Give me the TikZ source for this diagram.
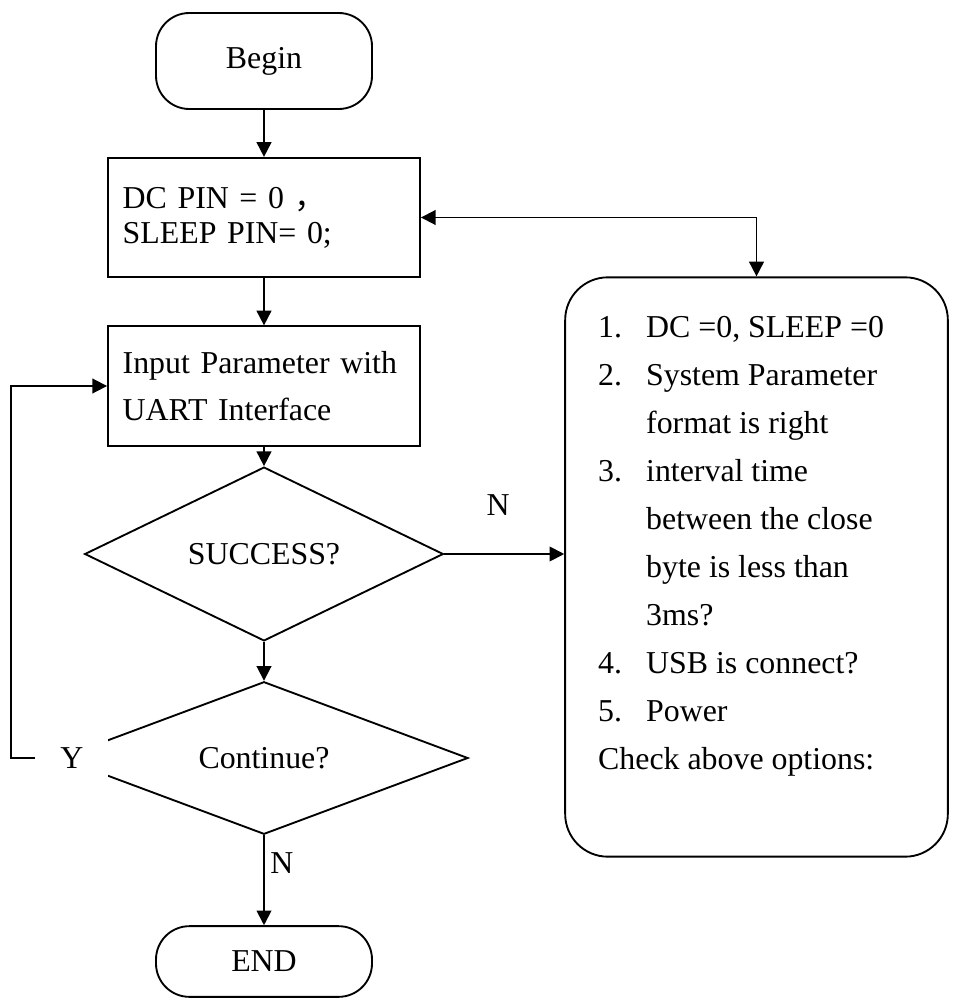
\documentclass[tikz,border=0pt]{standalone}
\usepackage{fontspec}
\setmainfont{Liberation Serif}
\newfontfamily\cjk{Noto Sans CJK SC}
\usetikzlibrary{shapes.geometric,arrows.meta}

\newcommand{\chkno}[1]{\makebox[36pt][l]{#1}}
\newcommand{\chkind}{\hspace*{36pt}}

\begin{document}
\begin{tikzpicture}[x=0.75pt,y=-0.75pt,line width=1.4pt,
    font=\fontsize{23.9}{35.5}\selectfont,
    >={Triangle[length=11pt,width=11pt]},
    term/.style={draw,rounded corners=25pt,minimum width=162pt,inner sep=0pt},
    proc/.style={draw,minimum width=234pt,minimum height=89.5pt,align=left,
      text width=212pt,inner xsep=11pt},
    dec/.style={draw,diamond,inner sep=0pt},
    arr/.style={->}]
  \useasboundingbox (0,0) rectangle (955,998);

  % main column
  \node[term,minimum height=72pt] (begin) at (264,61) {Begin};
  \node[proc,font=\fontsize{23.9}{26.3}\selectfont] (pins) at (264,217.5)
    {DC PIN = 0 {\cjk ，}\\SLEEP PIN= 0;};
  \node[proc] (input) at (264,386) {Input Parameter with\\UART Interface};
  \node[dec,minimum width=269pt,minimum height=90pt] (ok) at (264,554) {SUCCESS?};
  \node[dec,minimum width=306pt,minimum height=107pt] (more) at (264,758)
    {Continue?\hspace{40pt}};
  \node[term,minimum height=53pt] (end) at (264,961.5) {END};

  % checklist
  \node[draw,rounded corners=32pt,inner xsep=24.75pt,inner ysep=29pt,
    font=\fontsize{23.9}{36}\selectfont] (check) at (756.5,567)
    {\parbox[c][376.5pt][t]{237.5pt}{\raggedright
      \chkno{1.}DC =0, SLEEP =0\\
      \chkno{2.}System Parameter\\
      \chkind format is right\\
      \chkno{3.}interval time\\
      \chkind between the close\\
      \chkind byte is less than\\
      \chkind 3ms?\\
      \chkno{4.}USB is connect?\\
      \chkno{5.}Power\\
      Check above options:}};

  % labels
  \node (nok) at (498,505) {N};
  \node (nmore) at (282,863) {N};
  \node[fill=white,minimum width=54pt,minimum height=45pt,inner sep=0pt] (yes)
    at (72,758) {Y};

  % connectors
  \draw[arr] (begin) -- (pins);
  \draw[arr] (pins) -- (input);
  \draw[arr] (input) -- (ok);
  \draw[arr] (ok) -- (more);
  \draw[arr] (more) -- (end);
  \draw[arr] (ok.east) -- (ok.east -| check.west);
  \draw[<->] (pins.east) -| (check.north);
  \draw[arr] (yes.west) -- ++(-24,0) |- (input.west);
\end{tikzpicture}
\end{document}
